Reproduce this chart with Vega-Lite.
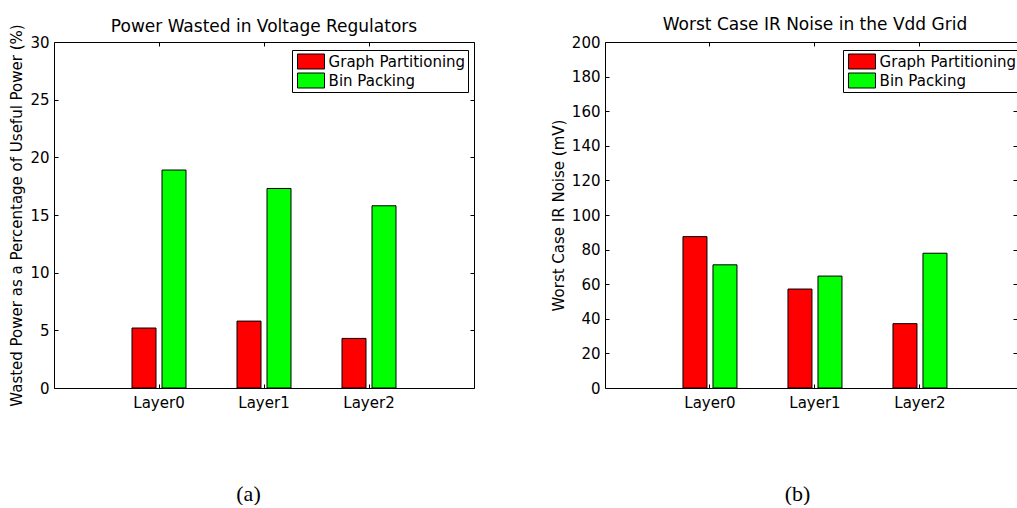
{
  "$schema": "https://vega.github.io/schema/vega-lite/v6.json",
  "autosize": {"type": "pad"},
  "padding": {"left": 9, "top": 15, "right": 0, "bottom": 0},
  "background": "white",
  "datasets": {
    "power": [
      {"layer": "Layer0", "method": "Graph Partitioning", "value": 5.2},
      {"layer": "Layer0", "method": "Bin Packing", "value": 18.9},
      {"layer": "Layer1", "method": "Graph Partitioning", "value": 5.8},
      {"layer": "Layer1", "method": "Bin Packing", "value": 17.3},
      {"layer": "Layer2", "method": "Graph Partitioning", "value": 4.3},
      {"layer": "Layer2", "method": "Bin Packing", "value": 15.8}
    ],
    "noise": [
      {"layer": "Layer0", "method": "Graph Partitioning", "value": 87.5},
      {"layer": "Layer0", "method": "Bin Packing", "value": 71.2},
      {"layer": "Layer1", "method": "Graph Partitioning", "value": 57.2},
      {"layer": "Layer1", "method": "Bin Packing", "value": 64.7},
      {"layer": "Layer2", "method": "Graph Partitioning", "value": 37.2},
      {"layer": "Layer2", "method": "Bin Packing", "value": 77.9}
    ]
  },
  "hconcat": [
    {
      "width": 420,
      "height": 346,
      "data": {"name": "power"},
      "title": {"text": "Power Wasted in Voltage Regulators", "dy": 13},
      "layer": [
        {
          "mark": {"type": "bar", "stroke": "black", "strokeWidth": 1},
          "encoding": {
            "x": {
              "field": "layer", "type": "nominal",
              "scale": {"domain": ["Layer0", "Layer1", "Layer2"], "paddingInner": 0, "paddingOuter": 0.5},
              "axis": {"orient": "bottom", "title": "(a)", "titleX": 194, "titleY": 112, "titleAlign": "center", "titleBaseline": "alphabetic", "titleFont": "Liberation Serif", "titleFontSize": 22}
            },
            "xOffset": {
              "field": "method", "type": "nominal",
              "scale": {"domain": ["Graph Partitioning", "Bin Packing"], "paddingInner": 0.2, "paddingOuter": 0.85}
            },
            "y": {
              "field": "value", "type": "quantitative",
              "scale": {"domain": [0, 30], "nice": false},
              "axis": {"orient": "left", "values": [0, 5, 10, 15, 20, 25, 30], "title": "Wasted Power as a Percentage of Useful Power (%)"}
            },
            "color": {
              "field": "method", "type": "nominal",
              "scale": {"domain": ["Graph Partitioning", "Bin Packing"], "range": ["#ff0000", "#00ff00"]},
              "legend": {"title": null, "orient": "none", "legendX": 238, "legendY": 8, "symbolType": "M-0.667,-0.833L2.333,-0.833L2.333,0.833L-0.667,0.833Z"}
            }
          }
        },
        {
          "mark": {"type": "bar", "opacity": 0},
          "encoding": {
            "x": {"field": "layer", "type": "nominal", "axis": {"orient": "top", "labels": false, "title": null}},
            "y": {"field": "value", "type": "quantitative", "axis": {"orient": "right", "labels": false, "title": null, "values": [0, 5, 10, 15, 20, 25, 30]}}
          }
        }
      ],
      "resolve": {"axis": {"x": "independent", "y": "independent"}}
    },
    {
      "width": 412,
      "height": 346,
      "data": {"name": "noise"},
      "title": {"text": "Worst Case IR Noise in the Vdd Grid", "dx": 4},
      "layer": [
        {
          "mark": {"type": "bar", "stroke": "black", "strokeWidth": 1},
          "encoding": {
            "x": {
              "field": "layer", "type": "nominal",
              "scale": {"domain": ["Layer0", "Layer1", "Layer2"], "paddingInner": 0, "paddingOuter": 0.4619, "align": 0.541},
              "axis": {"orient": "bottom", "title": "(b)", "titleX": 192, "titleY": 112, "titleAlign": "center", "titleBaseline": "alphabetic", "titleFont": "Liberation Serif", "titleFontSize": 22}
            },
            "xOffset": {
              "field": "method", "type": "nominal",
              "scale": {"domain": ["Graph Partitioning", "Bin Packing"], "paddingInner": 0.2, "paddingOuter": 0.85}
            },
            "y": {
              "field": "value", "type": "quantitative",
              "scale": {"domain": [0, 200], "nice": false},
              "axis": {"orient": "left", "values": [0, 20, 40, 60, 80, 100, 120, 140, 160, 180, 200], "title": "Worst Case IR Noise (mV)"}
            },
            "color": {
              "field": "method", "type": "nominal",
              "scale": {"domain": ["Graph Partitioning", "Bin Packing"], "range": ["#ff0000", "#00ff00"]},
              "legend": {"title": null, "orient": "none", "legendX": 238, "legendY": 8, "symbolType": "M-0.667,-0.833L2.333,-0.833L2.333,0.833L-0.667,0.833Z"}
            }
          }
        },
        {
          "mark": {"type": "bar", "opacity": 0},
          "encoding": {
            "x": {"field": "layer", "type": "nominal", "axis": {"orient": "top", "labels": false, "title": null}},
            "y": {"field": "value", "type": "quantitative", "axis": {"orient": "right", "labels": false, "title": null, "values": [0, 20, 40, 60, 80, 100, 120, 140, 160, 180, 200]}}
          }
        }
      ],
      "resolve": {"axis": {"x": "independent", "y": "independent"}}
    }
  ],
  "spacing": 131,
  "bounds": "flush",
  "resolve": {"scale": {"color": "independent", "y": "independent", "x": "independent"}, "legend": {"color": "independent"}},
  "config": {
    "font": "DejaVu Sans",
    "view": {"stroke": "black", "strokeWidth": 1},
    "axis": {
      "labelFont": "DejaVu Sans", "labelFontSize": 15, "labelColor": "black",
      "titleFont": "DejaVu Sans", "titleFontSize": 15, "titleColor": "black", "titleFontWeight": "normal",
      "tickColor": "black", "tickSize": -4, "tickWidth": 1, "domain": false, "grid": false
    },
    "axisX": {"labelAngle": 0, "labelPadding": 11},
    "axisY": {"labelPadding": 9, "titlePadding": 5},
    "legend": {
      "padding": 2, "strokeColor": "black", "strokeWidth": 1, "fillColor": "white", "cornerRadius": 0,
      "symbolSize": 324, "symbolStrokeColor": "black", "symbolStrokeWidth": 1, "symbolOpacity": 1,
      "labelOffset": 15.6, "labelFont": "DejaVu Sans", "labelFontSize": 15, "labelColor": "black", "rowPadding": 0
    },
    "title": {"font": "DejaVu Sans", "fontSize": 17, "fontWeight": "normal", "color": "black", "baseline": "alphabetic", "offset": 1, "anchor": "middle", "frame": "group"}
  }
}
